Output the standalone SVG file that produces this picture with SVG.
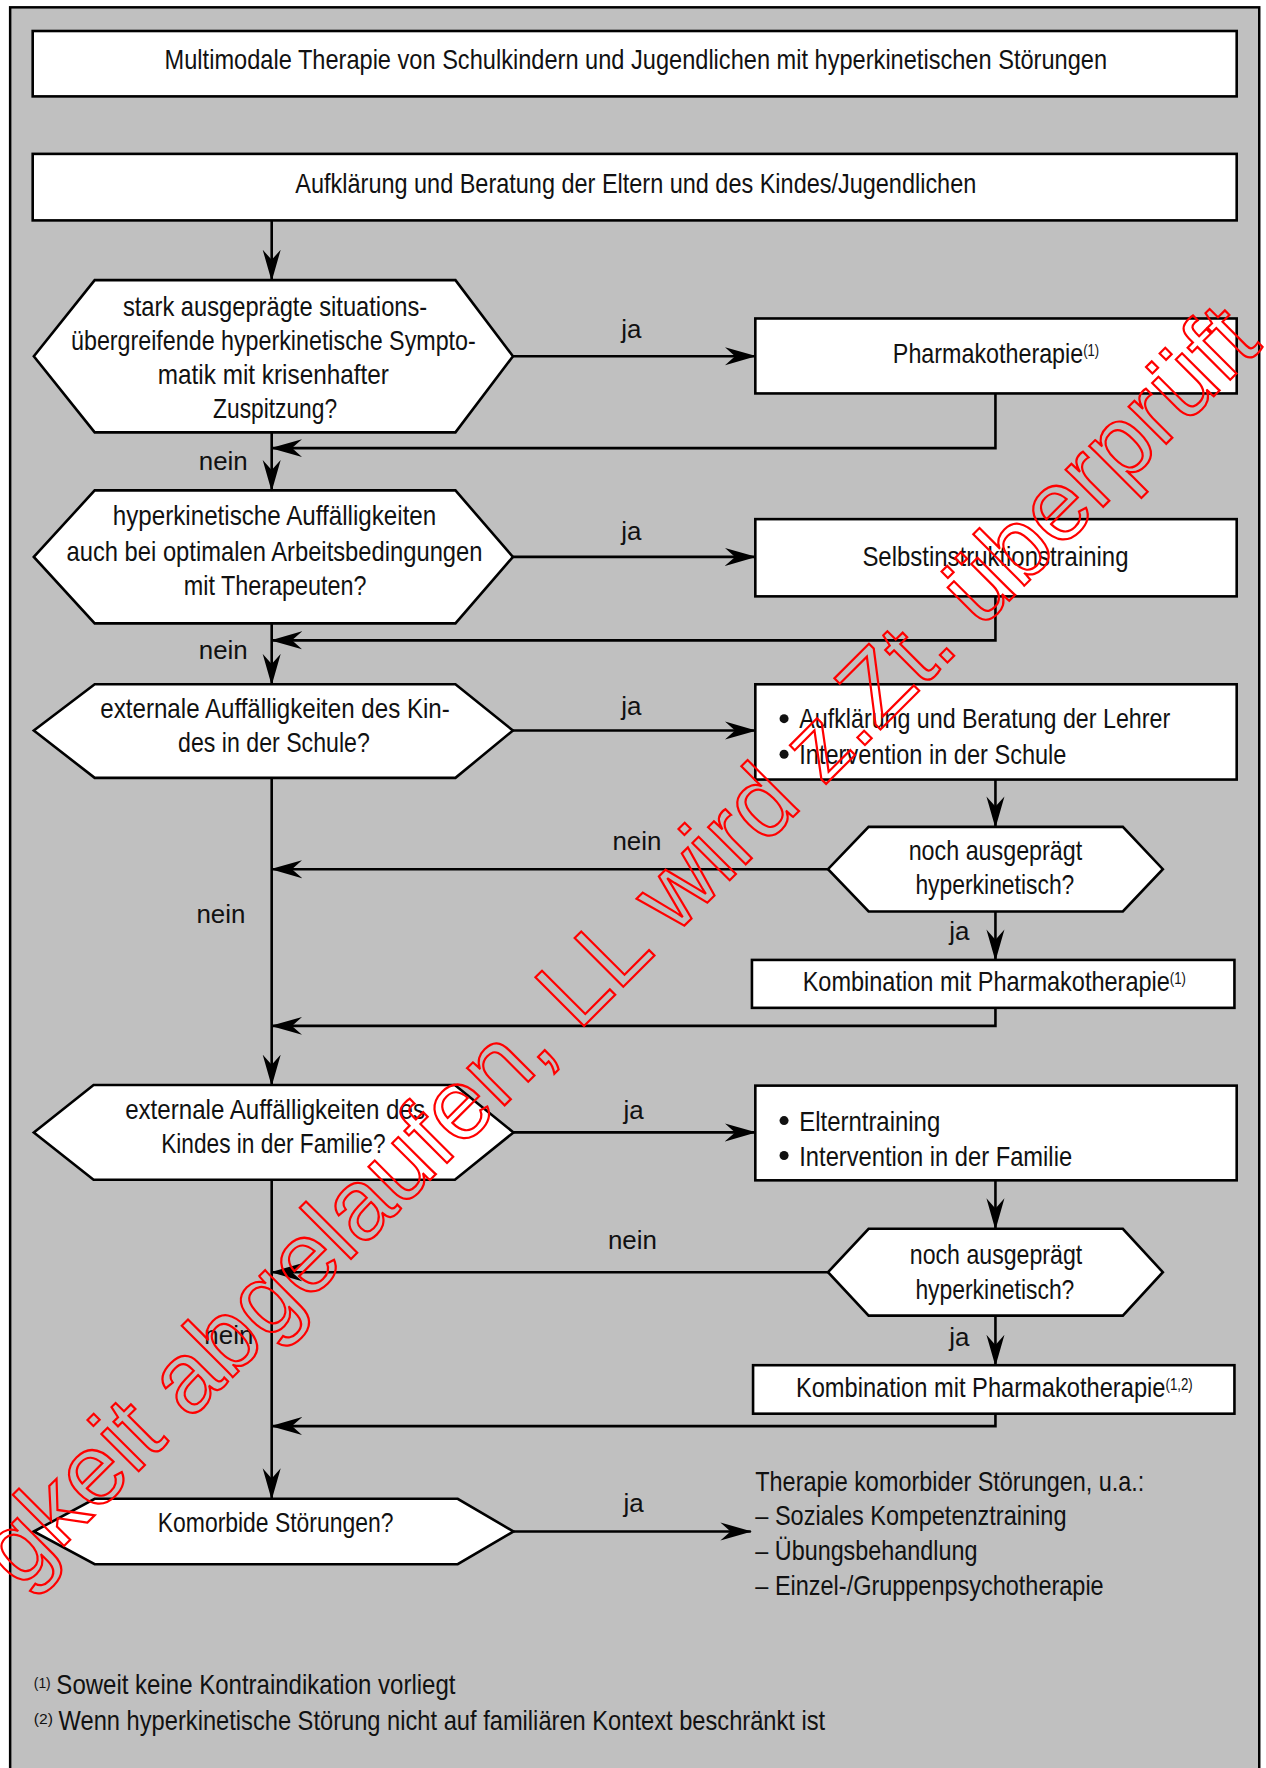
<svg xmlns="http://www.w3.org/2000/svg" width="1266" height="1768" viewBox="0 0 1266 1768">
<defs>
<style>
.frame{fill:#c0c0c0;stroke:#000;stroke-width:2.2}
.box{fill:#fff;stroke:#000;stroke-width:2.3}
.t{font-family:"Liberation Sans Narrow","Liberation Sans",Arial,sans-serif;font-size:25px;fill:#111}
.lbl{font-family:"Liberation Sans Narrow","Liberation Sans",Arial,sans-serif;font-size:23px;fill:#111}
.sup{font-family:"Liberation Sans Narrow","Liberation Sans",Arial,sans-serif;font-size:13px;fill:#111}
.st{font-size:14px}
.c{fill:none;stroke:#000;stroke-width:2.3}
.wm{font-family:"Liberation Sans",Arial,sans-serif;font-size:100px;fill:none;stroke:#ff0000;stroke-width:2.2}
</style>
<marker id="ah" markerUnits="userSpaceOnUse" markerWidth="28" markerHeight="18" refX="27" refY="9" orient="auto">
<path d="M0,1 L28,9 L0,17 L9,9 Z" fill="#000"/>
</marker>
</defs>
<rect x="0" y="0" width="1266" height="1768" fill="#fff"/>
<g transform="scale(1.12734)">
<rect class="frame" x="9" y="6.5" width="1108" height="1600"/>

<g id="title">
<rect class="box" x="29" y="27.5" width="1068" height="58"/>
<text class="t" x="564" y="61" text-anchor="middle" textLength="836" lengthAdjust="spacingAndGlyphs">Multimodale Therapie von Schulkindern und Jugendlichen mit hyperkinetischen Störungen</text>
</g>

<g id="aufklaerung">
<rect class="box" x="29" y="136.5" width="1068" height="59"/>
<text class="t" x="262" y="171" textLength="604" lengthAdjust="spacingAndGlyphs">Aufklärung und Beratung der Eltern und des Kindes/Jugendlichen</text>
</g>

<g id="q1">
<polygon class="box" points="30,316 84,248.5 404,248.5 455,316 404,383.5 84,383.5"/>
<text class="t" x="109" y="280" textLength="270" lengthAdjust="spacingAndGlyphs">stark ausgeprägte situations-</text>
<text class="t" x="63" y="310.5" textLength="359" lengthAdjust="spacingAndGlyphs">übergreifende hyperkinetische Sympto-</text>
<text class="t" x="140" y="341" textLength="205" lengthAdjust="spacingAndGlyphs">matik mit krisenhafter</text>
<text class="t" x="189" y="371" textLength="110" lengthAdjust="spacingAndGlyphs">Zuspitzung?</text>
</g>

<g id="pharmako">
<rect class="box" x="670" y="282.5" width="427" height="66.5"/>
<text class="t" x="792" y="322" textLength="183" lengthAdjust="spacingAndGlyphs">Pharmakotherapie<tspan class="st" dy="-6">(1)</tspan></text>
</g>

<g id="q2">
<polygon class="box" points="30,494 84,435 404,435 455,494 404,553 84,553"/>
<text class="t" x="100" y="466" textLength="287" lengthAdjust="spacingAndGlyphs">hyperkinetische Auffälligkeiten</text>
<text class="t" x="59" y="498" textLength="369" lengthAdjust="spacingAndGlyphs">auch bei optimalen Arbeitsbedingungen</text>
<text class="t" x="163" y="528" textLength="162" lengthAdjust="spacingAndGlyphs">mit Therapeuten?</text>
</g>

<g id="selbst">
<rect class="box" x="670" y="460.5" width="427" height="68.5"/>
<text class="t" x="765" y="502" textLength="236" lengthAdjust="spacingAndGlyphs">Selbstinstruktionstraining</text>
</g>

<g id="q3">
<polygon class="box" points="30,648 84,607 404,607 455,648 404,690 84,690"/>
<text class="t" x="89" y="637" textLength="310" lengthAdjust="spacingAndGlyphs">externale Auffälligkeiten des Kin-</text>
<text class="t" x="158" y="667" textLength="170" lengthAdjust="spacingAndGlyphs">des in der Schule?</text>
</g>

<g id="schule">
<rect class="box" x="670" y="607" width="427" height="84.5"/>
<circle cx="695.5" cy="637.5" r="4" fill="#111"/>
<circle cx="695.5" cy="669" r="4" fill="#111"/>
<text class="t" x="709" y="646" textLength="329" lengthAdjust="spacingAndGlyphs">Aufklärung und Beratung der Lehrer</text>
<text class="t" x="709" y="678" textLength="237" lengthAdjust="spacingAndGlyphs">Intervention in der Schule</text>
</g>

<g id="q4">
<polygon class="box" points="734.5,771 770.5,733.5 996,733.5 1031.5,771 996,808.5 770.5,808.5"/>
<text class="t" x="806" y="763" textLength="154" lengthAdjust="spacingAndGlyphs">noch ausgeprägt</text>
<text class="t" x="812" y="793" textLength="141" lengthAdjust="spacingAndGlyphs">hyperkinetisch?</text>
</g>

<g id="kombi1">
<rect class="box" x="667" y="851.5" width="428" height="42.5"/>
<text class="t" x="712" y="879" textLength="340" lengthAdjust="spacingAndGlyphs">Kombination mit Pharmakotherapie<tspan class="st" dy="-6">(1)</tspan></text>
</g>

<g id="q5">
<polygon class="box" points="30,1004.5 83,962.5 403.5,962.5 455.5,1004.5 403.5,1046.5 83,1046.5"/>
<text class="t" x="111" y="993" textLength="266" lengthAdjust="spacingAndGlyphs">externale Auffälligkeiten des</text>
<text class="t" x="143" y="1023" textLength="199" lengthAdjust="spacingAndGlyphs">Kindes in der Familie?</text>
</g>

<g id="familie">
<rect class="box" x="670" y="963" width="427" height="84"/>
<circle cx="695.5" cy="994" r="4" fill="#111"/>
<circle cx="695.5" cy="1025" r="4" fill="#111"/>
<text class="t" x="709" y="1003" textLength="125" lengthAdjust="spacingAndGlyphs">Elterntraining</text>
<text class="t" x="709" y="1034" textLength="242" lengthAdjust="spacingAndGlyphs">Intervention in der Familie</text>
</g>

<g id="q6">
<polygon class="box" points="734.5,1128.5 770.5,1090 996,1090 1031.5,1128.5 996,1167 770.5,1167"/>
<text class="t" x="807" y="1121" textLength="153" lengthAdjust="spacingAndGlyphs">noch ausgeprägt</text>
<text class="t" x="812" y="1152" textLength="141" lengthAdjust="spacingAndGlyphs">hyperkinetisch?</text>
</g>

<g id="kombi2">
<rect class="box" x="668" y="1211" width="427" height="43"/>
<text class="t" x="706" y="1239" textLength="352" lengthAdjust="spacingAndGlyphs">Kombination mit Pharmakotherapie<tspan class="st" dy="-6">(1,2)</tspan></text>
</g>

<g id="q7">
<polygon class="box" points="30,1358.5 84,1329.5 406,1329.5 455.5,1358.5 406,1387.5 84,1387.5"/>
<text class="t" x="140" y="1359" textLength="209" lengthAdjust="spacingAndGlyphs">Komorbide Störungen?</text>
</g>

<g id="komorbid">
<text class="t" x="670" y="1323" textLength="345" lengthAdjust="spacingAndGlyphs">Therapie komorbider Störungen, u.a.:</text>
<text class="t" x="670" y="1353" textLength="276" lengthAdjust="spacingAndGlyphs">– Soziales Kompetenztraining</text>
<text class="t" x="670" y="1384" textLength="197" lengthAdjust="spacingAndGlyphs">– Übungsbehandlung</text>
<text class="t" x="670" y="1415" textLength="309" lengthAdjust="spacingAndGlyphs">– Einzel-/Gruppenpsychotherapie</text>
</g>

<g id="connectors">
<path class="c" marker-end="url(#ah)" d="M241,195.5 V248.5"/>
<path class="c" marker-end="url(#ah)" d="M455,316 H670"/>
<path class="c" marker-end="url(#ah)" d="M883,349 V397.5 H241"/>
<path class="c" marker-end="url(#ah)" d="M241,383.5 V435"/>
<path class="c" marker-end="url(#ah)" d="M455,494 H670"/>
<path class="c" marker-end="url(#ah)" d="M883,529 V568 H241"/>
<path class="c" marker-end="url(#ah)" d="M241,553 V607"/>
<path class="c" marker-end="url(#ah)" d="M455,648 H670"/>
<path class="c" marker-end="url(#ah)" d="M883,691.5 V733.5"/>
<path class="c" marker-end="url(#ah)" d="M734.5,771 H241"/>
<path class="c" marker-end="url(#ah)" d="M883,808.5 V851.5"/>
<path class="c" marker-end="url(#ah)" d="M883,894 V910 H241"/>
<path class="c" marker-end="url(#ah)" d="M241,690 V962.5"/>
<path class="c" marker-end="url(#ah)" d="M455.5,1004.5 H670"/>
<path class="c" marker-end="url(#ah)" d="M883,1047 V1090"/>
<path class="c" marker-end="url(#ah)" d="M734.5,1128.5 H241"/>
<path class="c" marker-end="url(#ah)" d="M883,1167 V1211"/>
<path class="c" marker-end="url(#ah)" d="M883,1254 V1265 H241"/>
<path class="c" marker-end="url(#ah)" d="M241,1046.5 V1329.5"/>
<path class="c" marker-end="url(#ah)" d="M455.5,1358.5 H666"/>
<text class="lbl" x="560" y="300" text-anchor="middle">ja</text>
<text class="lbl" x="198" y="417" text-anchor="middle">nein</text>
<text class="lbl" x="560" y="479" text-anchor="middle">ja</text>
<text class="lbl" x="198" y="585" text-anchor="middle">nein</text>
<text class="lbl" x="560" y="634" text-anchor="middle">ja</text>
<text class="lbl" x="565" y="754" text-anchor="middle">nein</text>
<text class="lbl" x="196" y="819" text-anchor="middle">nein</text>
<text class="lbl" x="851" y="834" text-anchor="middle">ja</text>
<text class="lbl" x="562" y="993" text-anchor="middle">ja</text>
<text class="lbl" x="561" y="1108" text-anchor="middle">nein</text>
<text class="lbl" x="203" y="1192" text-anchor="middle">nein</text>
<text class="lbl" x="851" y="1194" text-anchor="middle">ja</text>
<text class="lbl" x="562" y="1341" text-anchor="middle">ja</text>
</g>

<g id="footnotes">
<text class="sup" x="30" y="1497" textLength="15" lengthAdjust="spacingAndGlyphs">(1)</text>
<text class="t" x="50" y="1503" textLength="354" lengthAdjust="spacingAndGlyphs">Soweit keine Kontraindikation vorliegt</text>
<text class="sup" x="30" y="1529" textLength="17" lengthAdjust="spacingAndGlyphs">(2)</text>
<text class="t" x="52" y="1535" textLength="680" lengthAdjust="spacingAndGlyphs">Wenn hyperkinetische Störung nicht auf familiären Kontext beschränkt ist</text>
</g>
</g>
<text class="wm" transform="translate(20,1590) rotate(-45)">gkeit abgelaufen, LL wird z.Zt. überprüft</text>
</svg>
